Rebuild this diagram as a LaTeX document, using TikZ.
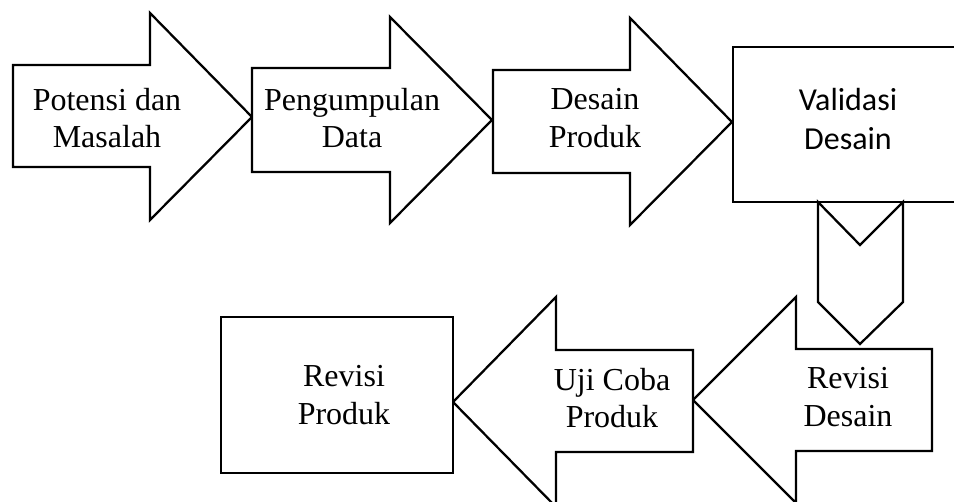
\documentclass[tikz,border=0pt]{standalone}
\usepackage{fontspec}
\setmainfont{Liberation Serif}
\newfontfamily\calibrifont{Carlito}
\usetikzlibrary{positioning}

\begin{document}
\begin{tikzpicture}[
  x=0.75pt, y=-0.75pt,
  blok/.style={draw, line width=1.7pt, line join=miter, fill=white},
  teks/.style={align=center, inner sep=0pt, font=\fontsize{24}{28}\selectfont},
  tekssans/.style={teks, font=\calibrifont\fontsize{24}{29}\selectfont}
]
  \useasboundingbox (0,0) rectangle (954,502);
  \clip (0,0) rectangle (954,502);
  % baris atas
  \draw[blok] (13,65) -- (150,65) -- (150,13) -- (252,117) -- (150,220) -- (150,167) -- (13,167) -- cycle;
  \draw[blok] (252,68) -- (390,68) -- (390,17) -- (492,120) -- (390,223) -- (390,172) -- (252,172) -- cycle;
  \draw[blok] (493,70) -- (630,70) -- (630,18) -- (732,122) -- (630,225) -- (630,173) -- (493,173) -- cycle;
  \draw[blok] (733,47) rectangle (965,202);
  % panah turun
  \draw[blok] (818,202) -- (860,245) -- (903,202) -- (903,302) -- (860,344) -- (818,302) -- cycle;
  % baris bawah
  \draw[blok] (932,349) -- (796,349) -- (796,297) -- (693,400) -- (796,503) -- (796,451) -- (932,451) -- cycle;
  \draw[blok] (693,350) -- (556,350) -- (556,297) -- (453,402) -- (556,507) -- (556,452) -- (693,452) -- cycle;
  \draw[blok] (221,317) rectangle (453,473);

  \node[teks] (potensi) at (107,118) {Potensi dan\\Masalah};
  \node[teks] (pengumpulan) at (352,118) {Pengumpulan\\Data};
  \node[teks] (desain) at (595,118) {Desain\\Produk};
  \node[tekssans] (validasi) at (848,119) {Validasi\\Desain};
  \node[teks] (revdesain) at (848,397) {Revisi\\Desain};
  \node[teks] (ujicoba) at (612,398) {Uji Coba\\Produk};
  \node[teks] (revproduk) at (344,395) {Revisi\\Produk};
\end{tikzpicture}
\end{document}
